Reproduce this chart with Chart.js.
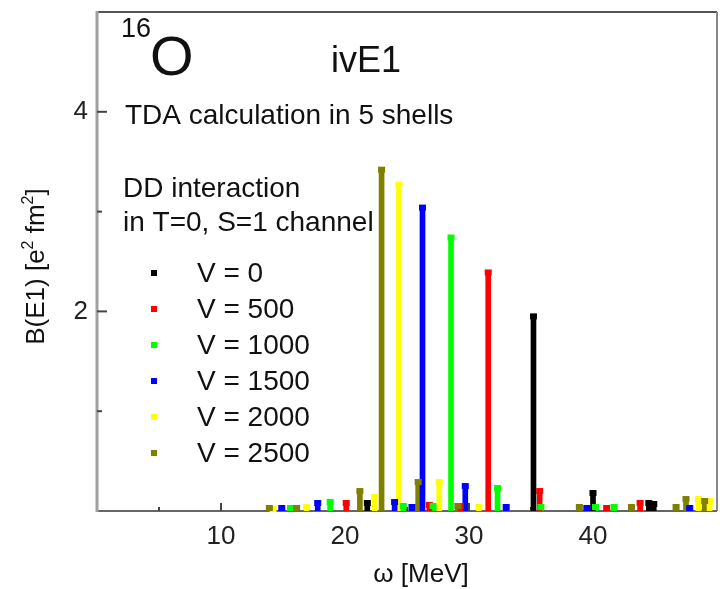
<!DOCTYPE html>
<html>
<head>
<meta charset="utf-8">
<script src="https://cdn.jsdelivr.net/npm/chart.js@4.4.0/dist/chart.umd.min.js"></script>
<style>
  html, body { margin: 0; padding: 0; background: #fff; }
  #wrap { width: 720px; height: 589px; }
</style>
</head>
<body>
<div id="wrap"><canvas id="chart" width="720" height="589"></canvas></div>
<script>
// excitation energy (MeV) and B(E1) strength for each V value
var energyV0 = [21.8, 35.2, 40.0, 44.5, 44.9];
var strengthV0 = [0.08, 1.95, 0.18, 0.08, 0.07];

var energyV500 = [20.1, 26.8, 29.3, 31.55, 35.7, 41.1, 43.8];
var strengthV500 = [0.08, 0.06, 0.05, 2.39, 0.20, 0.03, 0.08];

var energyV1000 = [15.6, 18.8, 24.7, 27.1, 28.55, 32.3, 35.8, 40.2, 41.7];
var strengthV1000 = [0.03, 0.09, 0.05, 0.05, 2.74, 0.23, 0.04, 0.04, 0.04];

var energyV1500 = [14.9, 17.8, 24.0, 25.4, 26.25, 29.7, 33.0, 39.5, 47.8];
var strengthV1500 = [0.03, 0.08, 0.09, 0.04, 3.04, 0.25, 0.04, 0.03, 0.03];

var energyV2000 = [14.2, 16.9, 22.4, 24.35, 27.6, 30.8, 48.5, 49.4];
var strengthV2000 = [0.02, 0.04, 0.14, 3.27, 0.29, 0.04, 0.12, 0.10];

var energyV2500 = [13.9, 16.1, 21.2, 22.95, 25.9, 29.1, 38.9, 43.1, 46.7, 47.5, 49.0];
var strengthV2500 = [0.03, 0.03, 0.20, 3.42, 0.29, 0.05, 0.04, 0.04, 0.04, 0.12, 0.10];

var seriesLabels = ["V = 0", "V = 500", "V = 1000", "V = 1500", "V = 2000", "V = 2500"];
var seriesColors = ["#000000", "#ff0000", "#00ff00", "#0000ff", "#ffff00", "#808000"];

var xTickLabels = [10, 20, 30, 40];
var yTickLabels = [2, 4];

var FONT = "'Liberation Sans', Arial, sans-serif";

function pairs(xs, ys) {
    return xs.map(function (x, i) { return {x: x, y: ys[i]}; });
}

var allSeries = [
    pairs(energyV0, strengthV0),
    pairs(energyV500, strengthV500),
    pairs(energyV1000, strengthV1000),
    pairs(energyV1500, strengthV1500),
    pairs(energyV2000, strengthV2000),
    pairs(energyV2500, strengthV2500)
];

var datasets = allSeries.map(function (d, i) {
    return {
        label: seriesLabels[i],
        data: d,
        backgroundColor: seriesColors[i],
        borderWidth: 0,
        barThickness: 5,
        grouped: false
    };
});

// frame and inward tick marks
var framePlugin = {
    id: "frame",
    beforeDatasetsDraw: function (chart) {
        var ctx = chart.ctx, a = chart.chartArea;
        var xs = chart.scales.x, ys = chart.scales.y;
        ctx.save();
        ctx.lineWidth = 2;
        ctx.strokeStyle = "#555";
        ctx.beginPath();
        ctx.moveTo(a.left, a.top); ctx.lineTo(a.right, a.top);
        ctx.stroke();
        ctx.strokeStyle = "#888";
        ctx.beginPath();
        ctx.moveTo(a.right, a.top); ctx.lineTo(a.right, a.bottom);
        ctx.stroke();
        ctx.strokeStyle = "#666";
        ctx.beginPath();
        ctx.moveTo(a.left, a.bottom); ctx.lineTo(a.right, a.bottom);
        ctx.stroke();
        ctx.lineWidth = 3;
        ctx.strokeStyle = "#a0a0a0";
        ctx.beginPath();
        ctx.moveTo(a.left, a.top - 1); ctx.lineTo(a.left, a.bottom + 1);
        ctx.stroke();

        ctx.lineWidth = 2;
        ctx.strokeStyle = "#444";
        xs.ticks.forEach(function (t) {
            if (t.value <= 0 || t.value >= 50) return;
            var px = xs.getPixelForValue(t.value);
            var len = t.value % 10 === 0 ? 8 : 4;
            ctx.beginPath();
            ctx.moveTo(px, a.bottom); ctx.lineTo(px, a.bottom - len);
            ctx.stroke();
        });
        ys.ticks.forEach(function (t) {
            if (t.value <= 0 || t.value >= 5) return;
            var py = ys.getPixelForValue(t.value);
            var len = t.value % 2 === 0 ? 10 : 5;
            ctx.beginPath();
            ctx.moveTo(a.left, py); ctx.lineTo(a.left + len, py);
            ctx.stroke();
        });
        ctx.restore();
    },
    afterDatasetsDraw: function (chart) {
        // square symbol at the top of every line
        var ctx = chart.ctx;
        ctx.save();
        chart.data.datasets.forEach(function (ds, i) {
            var meta = chart.getDatasetMeta(i);
            ctx.fillStyle = ds.backgroundColor;
            meta.data.forEach(function (el) {
                ctx.fillRect(el.x - 3.5, el.y - 3, 7, 6);
            });
        });
        ctx.restore();
    }
};

// text inside the plot, legend and axis titles
var textPlugin = {
    id: "texts",
    afterDraw: function (chart) {
        var ctx = chart.ctx, a = chart.chartArea;
        ctx.save();
        ctx.fillStyle = "#111";
        ctx.textAlign = "left";
        ctx.textBaseline = "alphabetic";

        ctx.font = "27px " + FONT;
        ctx.fillText("16", 121, 37);
        ctx.font = "56px " + FONT;
        ctx.fillText("O", 150, 75);
        ctx.font = "36px " + FONT;
        ctx.fillText("ivE1", 331, 72);

        ctx.font = "28px " + FONT;
        ctx.fillText("TDA calculation in 5 shells", 125, 124);
        ctx.fillText("DD interaction", 123, 197);
        ctx.fillText("in T=0, S=1 channel", 123, 231);

        // legend
        ctx.textBaseline = "middle";
        chart.data.datasets.forEach(function (ds, i) {
            var cy = 273 + i * 36;
            ctx.fillStyle = ds.backgroundColor;
            ctx.fillRect(151, cy - 3, 6, 6);
            ctx.fillStyle = "#111";
            ctx.fillText(ds.label, 197, cy + 1);
        });

        // x title
        ctx.textBaseline = "alphabetic";
        ctx.textAlign = "center";
        ctx.font = "26px " + FONT;
        ctx.fillText("\u03c9 [MeV]", 421, 582);

        // y title, rotated, with superscripts
        ctx.translate(44, (a.top + a.bottom) / 2 + 5);
        ctx.rotate(-Math.PI / 2);
        var parts = [["B(E1) [e", 26, 0], ["2", 16, -11], [" fm", 26, 0], ["2", 16, -11], ["]", 26, 0]];
        var total = 0;
        parts.forEach(function (p) { ctx.font = p[1] + "px " + FONT; total += ctx.measureText(p[0]).width; });
        var x = -total / 2;
        ctx.textAlign = "left";
        parts.forEach(function (p) {
            ctx.font = p[1] + "px " + FONT;
            ctx.fillText(p[0], x, p[2]);
            x += ctx.measureText(p[0]).width;
        });
        ctx.restore();
    }
};

new Chart(document.getElementById("chart"), {
    type: "bar",
    data: { datasets: datasets },
    options: {
        responsive: false,
        animation: false,
        devicePixelRatio: 1,
        layout: { padding: { top: 12, right: 3, left: 0, bottom: 0 } },
        plugins: {
            legend: { display: false },
            tooltip: { enabled: false },
            title: { display: false }
        },
        scales: {
            x: {
                type: "linear",
                min: 0,
                max: 50,
                offset: false,
                grid: { display: false, drawTicks: false },
                border: { display: false },
                ticks: {
                    stepSize: 5,
                    autoSkip: false,
                    maxRotation: 0,
                    padding: 10,
                    color: "#222",
                    font: { size: 26, family: FONT },
                    callback: function (v) { return xTickLabels.indexOf(v) >= 0 ? String(v) : ""; }
                },
                afterFit: function (s) {
                    s.height = 78;
                    s.paddingLeft = 0; s.paddingRight = 0;
                    s.paddingTop = 0; s.paddingBottom = 0;
                }
            },
            y: {
                min: 0,
                max: 5,
                grid: { display: false, drawTicks: false },
                border: { display: false },
                ticks: {
                    stepSize: 1,
                    padding: 9,
                    color: "#222",
                    font: { size: 26, family: FONT },
                    callback: function (v) { return yTickLabels.indexOf(v) >= 0 ? String(v) : ""; }
                },
                afterFit: function (s) {
                    s.width = 97;
                    s.paddingLeft = 0; s.paddingRight = 0;
                    s.paddingTop = 0; s.paddingBottom = 0;
                }
            }
        }
    },
    plugins: [framePlugin, textPlugin]
});
</script>
</body>
</html>
